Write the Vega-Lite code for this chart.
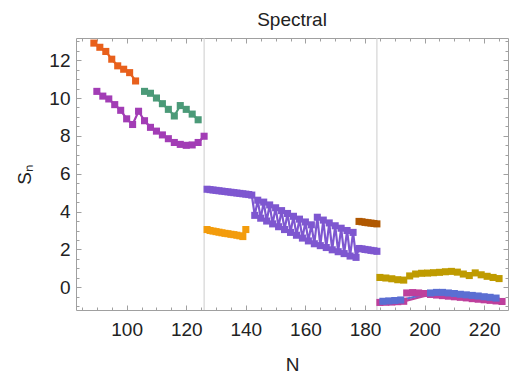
{
  "$schema": "https://vega.github.io/schema/vega-lite/v6.json",
  "width": 432,
  "height": 272,
  "autosize": {"type": "none"},
  "padding": {"left": 76, "top": 38, "right": 5, "bottom": 64},
  "title": {"text": "Spectral", "font": "Liberation Sans", "fontSize": 19, "fontWeight": "normal", "color": "#222222", "anchor": "middle", "baseline": "alphabetic", "frame": "group", "offset": -7},
  "config": {
    "view": {"stroke": null},
    "axis": {"grid": false, "domainColor": "#A0A0A0", "tickColor": "#A0A0A0", "labelFont": "Liberation Sans", "labelFontSize": 19, "labelColor": "#222222", "titleFont": "Liberation Sans", "titleFontSize": 19, "titleFontWeight": "normal", "titleColor": "#222222"}
  },
  "datasets": {
    "pts": [
      {"s":"a","g":"a","N":89,"v":12.9},{"s":"a","g":"a","N":91,"v":12.68},{"s":"a","g":"a","N":93,"v":12.46},{"s":"a","g":"a","N":95,"v":12.05},{"s":"a","g":"a","N":97,"v":11.7},{"s":"a","g":"a","N":99,"v":11.52},{"s":"a","g":"a","N":101,"v":11.34},{"s":"a","g":"a","N":103,"v":10.9},
      {"s":"b","g":"b","N":90,"v":10.35},{"s":"b","g":"b","N":92,"v":10.1},{"s":"b","g":"b","N":94,"v":9.95},{"s":"b","g":"b","N":96,"v":9.65},{"s":"b","g":"b","N":98,"v":9.35},{"s":"b","g":"b","N":100,"v":8.9},{"s":"b","g":"b","N":102,"v":8.6},{"s":"b","g":"b","N":104,"v":9.3},{"s":"b","g":"b","N":106,"v":8.8},{"s":"b","g":"b","N":108,"v":8.45},{"s":"b","g":"b","N":110,"v":8.25},{"s":"b","g":"b","N":112,"v":8.05},{"s":"b","g":"b","N":114,"v":7.85},{"s":"b","g":"b","N":116,"v":7.65},{"s":"b","g":"b","N":118,"v":7.55},{"s":"b","g":"b","N":120,"v":7.5},{"s":"b","g":"b","N":122,"v":7.52},{"s":"b","g":"b","N":124,"v":7.65},{"s":"b","g":"b","N":126,"v":7.98},
      {"s":"c","g":"c","N":106,"v":10.35},{"s":"c","g":"c","N":108,"v":10.25},{"s":"c","g":"c","N":110,"v":10.0},{"s":"c","g":"c","N":112,"v":9.7},{"s":"c","g":"c","N":114,"v":9.4},{"s":"c","g":"c","N":116,"v":9.05},{"s":"c","g":"c","N":118,"v":9.6},{"s":"c","g":"c","N":120,"v":9.4},{"s":"c","g":"c","N":122,"v":9.15},{"s":"c","g":"c","N":124,"v":8.85},
      {"s":"d","g":"d","N":127,"v":5.18},{"s":"d","g":"d","N":128,"v":5.16},{"s":"d","g":"d","N":129,"v":5.14},{"s":"d","g":"d","N":130,"v":5.12},{"s":"d","g":"d","N":131,"v":5.1},{"s":"d","g":"d","N":132,"v":5.08},{"s":"d","g":"d","N":133,"v":5.06},{"s":"d","g":"d","N":134,"v":5.04},{"s":"d","g":"d","N":135,"v":5.02},{"s":"d","g":"d","N":136,"v":5.0},{"s":"d","g":"d","N":137,"v":4.98},{"s":"d","g":"d","N":138,"v":4.96},{"s":"d","g":"d","N":139,"v":4.94},{"s":"d","g":"d","N":140,"v":4.92},{"s":"d","g":"d","N":141,"v":4.9},{"s":"d","g":"d","N":142,"v":4.87},
      {"s":"d","g":"d","N":143,"v":3.8},{"s":"d","g":"d","N":144,"v":4.6},{"s":"d","g":"d","N":145,"v":3.65},{"s":"d","g":"d","N":146,"v":4.5},{"s":"d","g":"d","N":147,"v":3.5},{"s":"d","g":"d","N":148,"v":4.35},{"s":"d","g":"d","N":149,"v":3.35},{"s":"d","g":"d","N":150,"v":4.2},{"s":"d","g":"d","N":151,"v":3.2},{"s":"d","g":"d","N":152,"v":4.05},{"s":"d","g":"d","N":153,"v":3.05},{"s":"d","g":"d","N":154,"v":3.9},{"s":"d","g":"d","N":155,"v":2.9},{"s":"d","g":"d","N":156,"v":3.75},{"s":"d","g":"d","N":157,"v":2.75},{"s":"d","g":"d","N":158,"v":3.6},{"s":"d","g":"d","N":159,"v":2.6},{"s":"d","g":"d","N":160,"v":3.45},{"s":"d","g":"d","N":161,"v":2.45},{"s":"d","g":"d","N":162,"v":3.3},{"s":"d","g":"d","N":163,"v":2.3},{"s":"d","g":"d","N":164,"v":3.7},{"s":"d","g":"d","N":165,"v":2.2},{"s":"d","g":"d","N":166,"v":3.55},{"s":"d","g":"d","N":167,"v":2.1},{"s":"d","g":"d","N":168,"v":3.4},{"s":"d","g":"d","N":169,"v":1.98},{"s":"d","g":"d","N":170,"v":3.25},{"s":"d","g":"d","N":171,"v":1.88},{"s":"d","g":"d","N":172,"v":3.12},{"s":"d","g":"d","N":173,"v":1.78},{"s":"d","g":"d","N":174,"v":3.0},{"s":"d","g":"d","N":175,"v":1.65},{"s":"d","g":"d","N":176,"v":2.9},{"s":"d","g":"d","N":177,"v":1.58},
      {"s":"d","g":"d","N":178,"v":2.05},{"s":"d","g":"d","N":179,"v":2.03},{"s":"d","g":"d","N":180,"v":2.0},{"s":"d","g":"d","N":181,"v":1.98},{"s":"d","g":"d","N":182,"v":1.95},{"s":"d","g":"d","N":183,"v":1.93},{"s":"d","g":"d","N":184,"v":1.9},
      {"s":"e","g":"e","N":127,"v":3.05},{"s":"e","g":"e","N":128,"v":3.0},{"s":"e","g":"e","N":129,"v":2.97},{"s":"e","g":"e","N":130,"v":2.94},{"s":"e","g":"e","N":131,"v":2.91},{"s":"e","g":"e","N":132,"v":2.88},{"s":"e","g":"e","N":133,"v":2.85},{"s":"e","g":"e","N":134,"v":2.83},{"s":"e","g":"e","N":135,"v":2.8},{"s":"e","g":"e","N":136,"v":2.78},{"s":"e","g":"e","N":137,"v":2.75},{"s":"e","g":"e","N":138,"v":2.72},{"s":"e","g":"e","N":139,"v":2.68},{"s":"e","g":"e","N":140,"v":3.05},
      {"s":"f","g":"f","N":178,"v":3.48},{"s":"f","g":"f","N":179,"v":3.46},{"s":"f","g":"f","N":180,"v":3.43},{"s":"f","g":"f","N":181,"v":3.41},{"s":"f","g":"f","N":182,"v":3.39},{"s":"f","g":"f","N":183,"v":3.37},{"s":"f","g":"f","N":184,"v":3.35},
      {"s":"g","g":"g","N":185,"v":0.52},{"s":"g","g":"g","N":187,"v":0.49},{"s":"g","g":"g","N":189,"v":0.45},{"s":"g","g":"g","N":191,"v":0.4},{"s":"g","g":"g","N":193,"v":0.38},{"s":"g","g":"g","N":195,"v":0.6},{"s":"g","g":"g","N":197,"v":0.7},{"s":"g","g":"g","N":199,"v":0.74},{"s":"g","g":"g","N":201,"v":0.75},{"s":"g","g":"g","N":203,"v":0.77},{"s":"g","g":"g","N":205,"v":0.79},{"s":"g","g":"g","N":207,"v":0.82},{"s":"g","g":"g","N":209,"v":0.84},{"s":"g","g":"g","N":211,"v":0.8},{"s":"g","g":"g","N":213,"v":0.7},{"s":"g","g":"g","N":215,"v":0.62},{"s":"g","g":"g","N":217,"v":0.76},{"s":"g","g":"g","N":219,"v":0.66},{"s":"g","g":"g","N":221,"v":0.58},{"s":"g","g":"g","N":223,"v":0.52},{"s":"g","g":"g","N":225,"v":0.46},
      {"s":"h","g":"h1","N":185,"v":-0.8},{"s":"h","g":"h1","N":187,"v":-0.79},{"s":"h","g":"h1","N":189,"v":-0.78},{"s":"h","g":"h1","N":191,"v":-0.76},{"s":"h","g":"h1","N":193,"v":-0.74},{"s":"h","g":"h1","N":202,"v":-0.38},{"s":"h","g":"h1","N":204,"v":-0.41},{"s":"h","g":"h1","N":206,"v":-0.44},{"s":"h","g":"h1","N":208,"v":-0.47},{"s":"h","g":"h1","N":210,"v":-0.5},{"s":"h","g":"h1","N":212,"v":-0.53},{"s":"h","g":"h1","N":214,"v":-0.56},{"s":"h","g":"h1","N":216,"v":-0.6},{"s":"h","g":"h1","N":218,"v":-0.63},{"s":"h","g":"h1","N":220,"v":-0.66},{"s":"h","g":"h1","N":222,"v":-0.69},{"s":"h","g":"h1","N":224,"v":-0.72},{"s":"h","g":"h1","N":226,"v":-0.75},
      {"s":"h","g":"h2","N":194,"v":-0.3},{"s":"h","g":"h2","N":196,"v":-0.28},{"s":"h","g":"h2","N":198,"v":-0.3},{"s":"h","g":"h2","N":200,"v":-0.33},{"s":"h","g":"h2","N":202,"v":-0.38},
      {"s":"i","g":"i","N":186,"v":-0.74},{"s":"i","g":"i","N":188,"v":-0.72},{"s":"i","g":"i","N":190,"v":-0.7},{"s":"i","g":"i","N":192,"v":-0.67},{"s":"i","g":"i","N":202,"v":-0.3},{"s":"i","g":"i","N":204,"v":-0.27},{"s":"i","g":"i","N":206,"v":-0.27},{"s":"i","g":"i","N":208,"v":-0.3},{"s":"i","g":"i","N":210,"v":-0.33},{"s":"i","g":"i","N":212,"v":-0.37},{"s":"i","g":"i","N":214,"v":-0.4},{"s":"i","g":"i","N":216,"v":-0.43},{"s":"i","g":"i","N":218,"v":-0.46},{"s":"i","g":"i","N":220,"v":-0.5},{"s":"i","g":"i","N":222,"v":-0.53},{"s":"i","g":"i","N":224,"v":-0.57}
    ]
  },
  "data": {"name": "pts"},
  "resolve": {"axis": {"x": "independent", "y": "independent"}},
  "layer": [
    {
      "data": {"values": [{"N": 126}, {"N": 184}]},
      "mark": {"type": "rule", "color": "#CCCCCC", "strokeWidth": 1},
      "encoding": {
        "x": {"field": "N", "type": "quantitative", "scale": {"domain": [83, 228], "nice": false, "zero": false},
              "axis": {"orient": "bottom", "values": [100,120,140,160,180,200,220], "ticks": false, "domain": true, "labelPadding": 10, "title": "N", "titlePadding": 16}}
      }
    },
    {
      "mark": {"type": "line", "strokeWidth": 2.2},
      "encoding": {
        "x": {"field": "N", "type": "quantitative", "scale": {"domain": [83, 228], "nice": false, "zero": false},
              "axis": {"orient": "bottom", "values": [100,120,140,160,180,200,220], "labels": false, "domain": false, "tickSize": -5, "title": null}},
        "y": {"field": "v", "type": "quantitative", "scale": {"domain": [-1.2, 13.17], "nice": false, "zero": false},
              "axis": {"orient": "left", "values": [0,2,4,6,8,10,12], "ticks": false, "domain": true, "labelPadding": 6, "title": "Sₙ", "titlePadding": 14}},
        "color": {"field": "s", "type": "nominal", "legend": null,
                  "scale": {"domain": ["a","b","c","d","e","f","g","h","i"], "range": ["#E8601C","#A23DB5","#4B9A78","#7E57D0","#F39C0C","#B05800","#BF9B00","#BE3F9C","#5B6ED2"]}},
        "detail": {"field": "g"}
      }
    },
    {
      "mark": {"type": "point", "shape": "square", "filled": true, "size": 50, "opacity": 1},
      "encoding": {
        "x": {"field": "N", "type": "quantitative", "scale": {"domain": [83, 228], "nice": false, "zero": false},
              "axis": {"orient": "bottom", "values": [85,90,95,105,110,115,125,130,135,145,150,155,165,170,175,185,190,195,205,210,215,225], "labels": false, "domain": false, "tickSize": -3, "title": null}},
        "y": {"field": "v", "type": "quantitative", "scale": {"domain": [-1.2, 13.17], "nice": false, "zero": false},
              "axis": {"orient": "left", "values": [0,2,4,6,8,10,12], "labels": false, "domain": false, "tickSize": -5, "title": null}},
        "color": {"field": "s", "type": "nominal", "legend": null,
                  "scale": {"domain": ["a","b","c","d","e","f","g","h","i"], "range": ["#E8601C","#A23DB5","#4B9A78","#7E57D0","#F39C0C","#B05800","#BF9B00","#BE3F9C","#5B6ED2"]}}
      }
    },
    {
      "mark": {"type": "point", "opacity": 0},
      "encoding": {
        "x": {"field": "N", "type": "quantitative", "scale": {"domain": [83, 228], "nice": false, "zero": false},
              "axis": {"orient": "top", "values": [100,120,140,160,180,200,220], "labels": false, "domain": true, "tickSize": -5, "title": null}},
        "y": {"field": "v", "type": "quantitative", "scale": {"domain": [-1.2, 13.17], "nice": false, "zero": false},
              "axis": {"orient": "left", "values": [-1,-0.5,0.5,1,1.5,2.5,3,3.5,4.5,5,5.5,6.5,7,7.5,8.5,9,9.5,10.5,11,11.5,12.5,13], "labels": false, "domain": false, "tickSize": -3, "title": null}}
      }
    },
    {
      "mark": {"type": "point", "opacity": 0},
      "encoding": {
        "x": {"field": "N", "type": "quantitative", "scale": {"domain": [83, 228], "nice": false, "zero": false},
              "axis": {"orient": "top", "values": [85,90,95,105,110,115,125,130,135,145,150,155,165,170,175,185,190,195,205,210,215,225], "labels": false, "domain": false, "tickSize": -3, "title": null}},
        "y": {"field": "v", "type": "quantitative", "scale": {"domain": [-1.2, 13.17], "nice": false, "zero": false},
              "axis": {"orient": "right", "values": [0,2,4,6,8,10,12], "labels": false, "domain": true, "tickSize": -5, "title": null}}
      }
    },
    {
      "mark": {"type": "point", "opacity": 0},
      "encoding": {
        "x": {"field": "N", "type": "quantitative", "scale": {"domain": [83, 228], "nice": false, "zero": false}, "axis": null},
        "y": {"field": "v", "type": "quantitative", "scale": {"domain": [-1.2, 13.17], "nice": false, "zero": false},
              "axis": {"orient": "right", "values": [-1,-0.5,0.5,1,1.5,2.5,3,3.5,4.5,5,5.5,6.5,7,7.5,8.5,9,9.5,10.5,11,11.5,12.5,13], "labels": false, "domain": false, "tickSize": -3, "title": null}}
      }
    }
  ]
}
